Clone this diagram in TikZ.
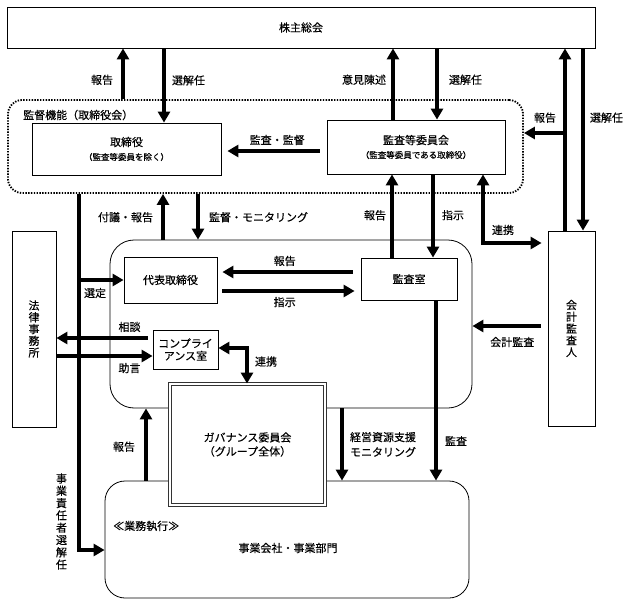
\documentclass[tikz,border=0pt]{standalone}
\usepackage{fontspec}
\setmainfont{Noto Sans CJK JP}[FakeBold=0.3]
\usetikzlibrary{arrows.meta,positioning}
\newcommand{\subtxt}[1]{{\fontsize{8.5}{10}\selectfont #1}}

\begin{document}
\begin{tikzpicture}[
  x=1pt, y=-1pt,
  box/.style={draw, line width=0.8pt, align=center, inner sep=0pt,
              font=\fontsize{11}{13}\selectfont},
  groupbox/.style={draw, line width=0.8pt, inner sep=0pt},
  board/.style={draw, line width=1.8pt, dash pattern=on 1.4pt off 1.4pt,
              rounded corners=14pt, inner sep=0pt},
  gov/.style={draw=black!80, double, double distance=1.5pt, line width=0.9pt,
              fill=white, align=center, inner sep=0pt, font=\fontsize{11}{14}\selectfont},
  vtext/.style={font=\fontsize{11}{11.8}\selectfont},
  arr/.style={-{Triangle[length=11pt, width=12pt]}, line width=4pt},
  darr/.style={{Triangle[length=11pt, width=12pt]}-{Triangle[length=11pt, width=12pt]}, line width=4pt},
  lbl/.style={font=\fontsize{11}{13}\selectfont, inner sep=1pt}
]
\useasboundingbox (0,0) rectangle (630,605);

% boxes
\node[box, minimum width=588pt, minimum height=41pt] (soukai) at (301,27.5) {株主総会};
\node[board, minimum width=515pt, minimum height=93pt] (kansa) at (265.5,146.5) {};
\node[lbl, anchor=west] (kansalbl) at (22,115) {監督機能（取締役会）};
\node[box, minimum width=189pt, minimum height=52pt] (torishimari) at (126.5,149)
  {取締役\\[1pt]\subtxt{（監査等委員を除く）}};
\node[box, minimum width=178pt, minimum height=54pt] (iinkai) at (416,147)
  {監査等委員会\\[1pt]\subtxt{（監査等委員である取締役）}};
\node[groupbox, rounded corners=24pt, minimum width=362pt, minimum height=168pt] (shikkou) at (291,324) {};
\node[groupbox, rounded corners=20pt, minimum width=364pt, minimum height=117pt] (jigyou) at (287,539.5) {};
\node[lbl, anchor=west] (gyoumu) at (112,526) {≪業務執行≫};
\node[lbl] (jigyoulbl) at (288,548) {事業会社・事業部門};
\node[box, minimum width=93pt, minimum height=46pt] (daihyo) at (170.5,280) {代表取締役};
\node[box, minimum width=96pt, minimum height=42pt] (kansashitsu) at (409,279) {監査室};
\node[box, vtext, minimum width=44pt, minimum height=196pt] (houritsu) at (34,329) {法\\律\\事\\務\\所};
\node[box, minimum width=65pt, minimum height=39pt, font=\fontsize{11}{12.5}\selectfont] (compliance) at (185.5,349.5) {コンプライ\\アンス室};
\node[gov, minimum width=155pt, minimum height=121pt] (governance) at (247.5,444.5) {ガバナンス委員会\\（グループ全体）};
\node[box, vtext, minimum width=47pt, minimum height=195pt] (kaikei) at (571.5,328.5) {会\\計\\監\\査\\人};

% guide points for the connectors
\coordinate (g1) at (123,0);
\coordinate (g2) at (164,0);
\coordinate (g3) at (393,0);
\coordinate (g4) at (437,0);
\coordinate (g5) at (565,133);
\coordinate (g6) at (583,0);
\coordinate (h8) at (0,151);
\coordinate (g9) at (163,0);
\coordinate (g10) at (198,0);
\coordinate (g11) at (392,0);
\coordinate (g12) at (433,0);
\coordinate (g13) at (483,243);
\coordinate (g14) at (79,550);
\coordinate (h16) at (0,272);
\coordinate (h17) at (0,291);
\coordinate (h18) at (0,338);
\coordinate (h19) at (0,356);
\coordinate (g20) at (247,348);
\coordinate (h21) at (0,326);
\coordinate (g22) at (146,0);
\coordinate (g23) at (342,0);
\coordinate (g24) at (436,0);

% connectors
\draw[arr] (kansa.north -| g1) -- node[lbl, pos=.38, left=7pt] {報告} (soukai.south -| g1);
\draw[arr] (soukai.south -| g2) -- node[lbl, pos=.43, right=5pt] {選解任} (torishimari.north -| g2);
\draw[arr] (iinkai.north -| g3) -- node[lbl, pos=.56, left=4pt] {意見陳述} (soukai.south -| g3);
\draw[arr] (soukai.south -| g4) -- node[lbl, pos=.44, right=9pt] {選解任} (iinkai.north -| g4);
\draw[arr] (kaikei.north -| g5) -- node[lbl, pos=.62, left=6pt] {報告} (soukai.south -| g5);
\draw[arr] (g5) -- (g5 -| kansa.east);
\draw[arr] (soukai.south -| g6) -- node[lbl, pos=.38, right=4pt] {選解任} (kaikei.north -| g6);
\draw[arr, shorten <=7pt, shorten >=6pt] (iinkai.west |- h8) -- node[lbl, pos=.47, above=3pt] {監査・監督} (torishimari.east |- h8);

\draw[arr] (shikkou.north -| g9) -- node[lbl, pos=.49, left=7pt] {付議・報告} (kansa.south -| g9);
\draw[arr] (kansa.south -| g10) -- node[lbl, pos=.51, right=8pt] {監督・モニタリング} (shikkou.north -| g10);
\draw[arr] (kansashitsu.north -| g11) -- node[lbl, pos=.51, left=3pt] {報告} (iinkai.south -| g11);
\draw[arr] (iinkai.south -| g12) -- node[lbl, pos=.49, right=6pt] {指示} (kansashitsu.north -| g12);
\draw[darr, shorten >=6pt] (iinkai.south -| g13) |- node[lbl, pos=.5, above right=5pt and 6pt] {連携} (kaikei.west |- g13);

\draw[arr] (kansa.south -| g14) |- node[lbl, pos=.46, left=9pt, align=center, font=\fontsize{11}{12.3}\selectfont] {事\\業\\責\\任\\者\\選\\解\\任} (jigyou.west |- g14);
\draw[arr] (daihyo.west -| g14) -- node[lbl, pos=.36, below=5pt] {選定} (daihyo.west);
\draw[arr, shorten <=8pt, shorten >=5pt] (kansashitsu.west |- h16) -- node[lbl, pos=.53, above=3pt] {報告} (daihyo.east |- h16);
\draw[arr, shorten <=5pt, shorten >=6pt] (daihyo.east |- h17) -- node[lbl, pos=.47, below=3pt] {指示} (kansashitsu.west |- h17);
\draw[arr, shorten <=5pt] (compliance.west |- h18) -- node[lbl, pos=.24, above=3pt] {相談} (houritsu.east |- h18);
\draw[arr] (houritsu.east |- h19) -- node[lbl, pos=.76, below=4pt] {助言} (compliance.west |- h19);
\draw[darr] (compliance.east |- g20) -| node[lbl, pos=.69, right=5pt] {連携} (governance.north -| g20);
\draw[arr, shorten <=7pt] (kaikei.west |- h21) -- node[lbl, pos=.47, below=8pt] {会計監査} (shikkou.east |- h21);

\draw[arr] (jigyou.north -| g22) -- node[lbl, pos=.47, left=8pt] {報告} (shikkou.south -| g22);
\draw[arr] (shikkou.south -| g23) -- node[lbl, pos=.5, right=5pt, align=left, font=\fontsize{11}{15}\selectfont] {経営資源支援\\モニタリング} (jigyou.north -| g23);
\draw[arr] (kansashitsu.south -| g24) -- node[lbl, pos=.78, right=6pt] {監査} (jigyou.north -| g24);
\end{tikzpicture}
\end{document}
